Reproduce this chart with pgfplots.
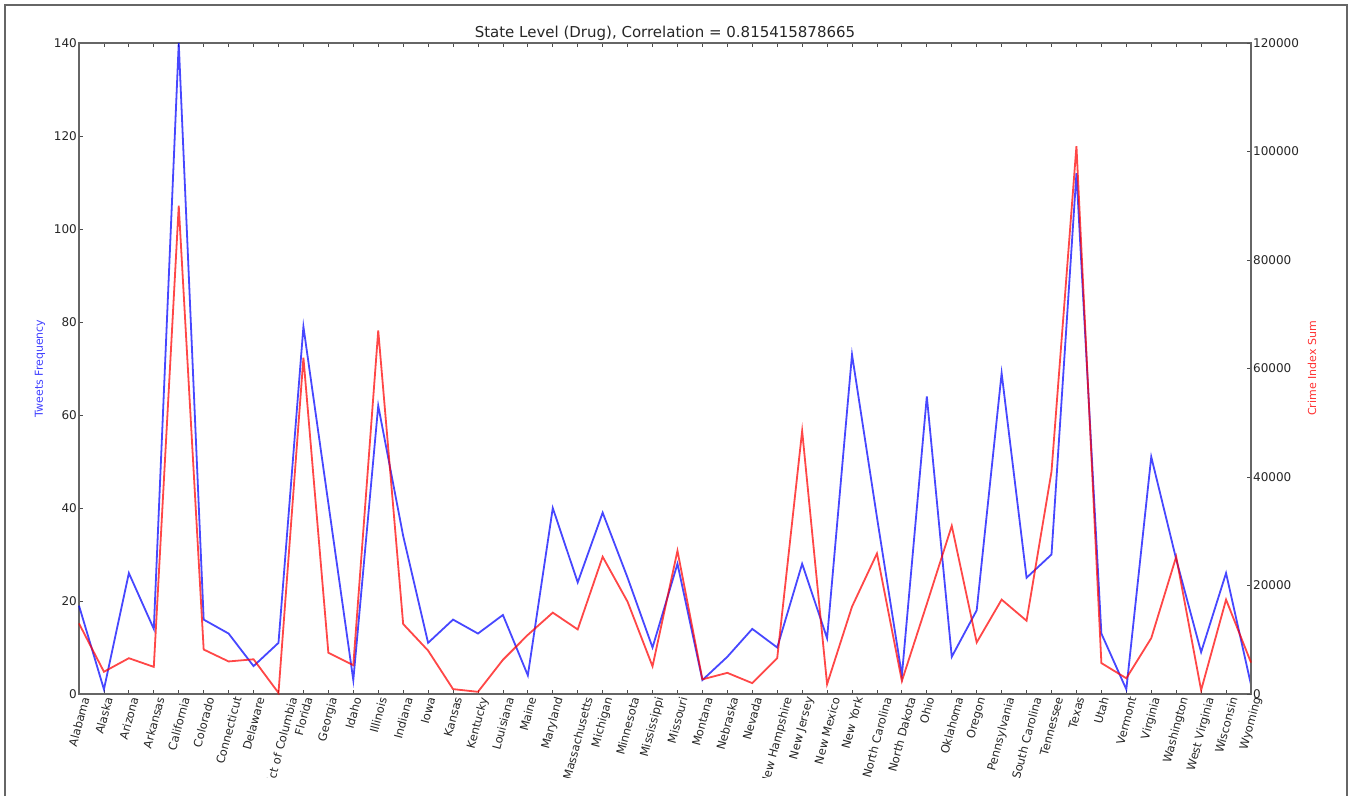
\documentclass[border=0pt]{standalone}
\usepackage{pgfplots}
\usepackage{pgfplotstable}
\pgfplotsset{compat=1.18}
\usepackage{fontspec}
\setmainfont{DejaVu Sans}
\newcommand{\rl}[1]{\rotatebox{75}{#1}}

\pgfplotstableread{
idx tweets crime
0  19  13000
1  1   4100
2  26  6600
3  14  5000
4  140 90000
5  16  8200
6  13  6000
7  6   6400
8  11  200
9  79  62000
10 41  7600
11 3   5300
12 62  67000
13 34  12900
14 11  8000
15 16  900
16 13  400
17 17  6300
18 4   10900
19 40  15000
20 24  11900
21 39  25300
22 25  17000
23 10  5100
24 28  26400
25 3   2700
26 8   3900
27 14  2000
28 10  6600
29 28  48500
30 12  1800
31 73  16100
32 38  25900
33 4   2400
34 64  16600
35 8   31000
36 18  9500
37 69  17400
38 25  13500
39 30  41000
40 112 101000
41 13  5700
42 1   2900
43 51  10300
44 29  25300
45 9   700
46 26  17400
47 2   5800
}\datatable

\begin{document}
\begin{tikzpicture}[x=1pt,y=1pt]
\useasboundingbox (0,0) rectangle (1355,796);
\begin{scope}
\clip (0,19) rectangle (1355,796);
\begin{axis}[
  at={(79pt,102pt)}, anchor=south west,
  scale only axis, width=1172pt, height=651pt,
  xmin=0, xmax=47, ymin=0, ymax=140,
  xtick={0,...,47},
  xticklabels={\rl{Alabama},\rl{Alaska},\rl{Arizona},\rl{Arkansas},\rl{California},\rl{Colorado},\rl{Connecticut},\rl{Delaware},\rl{District of Columbia},\rl{Florida},\rl{Georgia},\rl{Idaho},\rl{Illinois},\rl{Indiana},\rl{Iowa},\rl{Kansas},\rl{Kentucky},\rl{Louisiana},\rl{Maine},\rl{Maryland},\rl{Massachusetts},\rl{Michigan},\rl{Minnesota},\rl{Mississippi},\rl{Missouri},\rl{Montana},\rl{Nebraska},\rl{Nevada},\rl{New Hampshire},\rl{New Jersey},\rl{New Mexico},\rl{New York},\rl{North Carolina},\rl{North Dakota},\rl{Ohio},\rl{Oklahoma},\rl{Oregon},\rl{Pennsylvania},\rl{South Carolina},\rl{Tennessee},\rl{Texas},\rl{Utah},\rl{Vermont},\rl{Virginia},\rl{Washington},\rl{West Virginia},\rl{Wisconsin},\rl{Wyoming}},
  xticklabel style={anchor=north, inner sep=2pt, font=\fontsize{11.5}{12}\selectfont, text=black!85},
  xtick pos=both, xticklabel pos=lower,
  ytick={0,20,...,140}, ytick pos=left,
  yticklabel style={font=\fontsize{12}{12}\selectfont, text=black!85, inner sep=2pt},
  /pgf/number format/assume math mode=true,
  tick align=inside, major tick length=4pt,
  tick style={black!70, line width=0.8pt},
  axis line style={black!60, line width=1.3pt},
  title={State Level (Drug), Correlation = 0.815415878665},
  title style={at={(0.5,1)}, anchor=base, yshift=-0.5pt, font=\fontsize{15}{15}\selectfont, text=black!85},
  ylabel={Tweets Frequency},
  ylabel style={at={(axis description cs:-0.0333,0.5)}, anchor=center, rotate=0, font=\fontsize{11}{11}\selectfont, text=blue!75},
  clip=false,
]
\addplot[blue, opacity=0.72, line width=1.8pt] table[x=idx, y=tweets] {\datatable};
\end{axis}
\begin{axis}[
  at={(79pt,102pt)}, anchor=south west,
  scale only axis, width=1172pt, height=651pt,
  xmin=0, xmax=47, ymin=0, ymax=120000,
  axis x line=none, axis y line*=right,
  ytick={0,20000,...,120000},
  scaled y ticks=false,
  yticklabel style={/pgf/number format/fixed, /pgf/number format/1000 sep={}, font=\fontsize{12}{12}\selectfont, text=black!85, inner sep=2pt},
  /pgf/number format/assume math mode=true,
  tick align=inside, major tick length=4pt,
  tick style={black!70, line width=0.8pt},
  axis line style={black!60, line width=1.3pt},
  ylabel={Crime Index Sum},
  ylabel style={at={(axis description cs:1.052,0.5)}, anchor=center, rotate=0, font=\fontsize{11}{11}\selectfont, text=red!80},
  clip=false,
]
\addplot[red, opacity=0.72, line width=1.8pt] table[x=idx, y=crime] {\datatable};
\end{axis}
\end{scope}
\draw[line width=2pt, black!60] (5,0) -- (5,791) -- (1347,791) -- (1347,0);
\end{tikzpicture}
\end{document}
